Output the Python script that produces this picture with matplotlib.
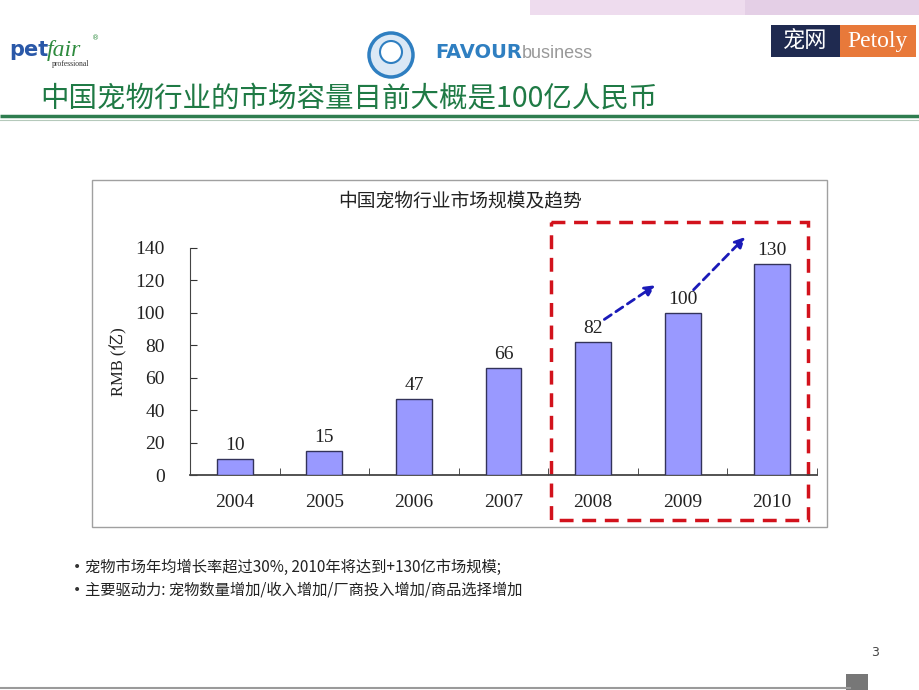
import matplotlib
matplotlib.use("Agg")
import matplotlib.pyplot as plt
from matplotlib.patches import Rectangle, Circle

years = ["2004", "2005", "2006", "2007", "2008", "2009", "2010"]
market_size = [10, 15, 47, 66, 82, 100, 130]
y_ticks = [0, 20, 40, 60, 80, 100, 120, 140]
trend_from = [4, 5]  # dashed arrows 2008->2009, 2009->2010

page_title = "中国宠物行业的市场容量目前大概是100亿人民币"
chart_title = "中国宠物行业市场规模及趋势"
y_label = "RMB (亿)"
bullets = [
    "宠物市场年均增长率超过30%, 2010年将达到+130亿市场规模;",
    "主要驱动力: 宠物数量增加/收入增加/厂商投入增加/商品选择增加",
]

CJK = ["Noto Sans CJK SC", "DejaVu Sans"]
SERIF = ["Liberation Serif", "Noto Sans CJK SC"]

W, H = 920, 690
fig = plt.figure(figsize=(W / 100, H / 100), dpi=100)

# overlay in pixel coordinates for slide decoration
bg = fig.add_axes([0, 0, 1, 1])
bg.set_xlim(0, W)
bg.set_ylim(H, 0)
bg.axis("off")

# top pink strip
bg.add_patch(Rectangle((530, 0), 390, 15, color="#eedcee", lw=0))
bg.add_patch(Rectangle((745, 0), 175, 15, color="#e4cfe6", lw=0))

# petfair logo
bg.text(9, 56, "pet", color="#2a58a8", fontsize=15, fontweight="bold",
        family="DejaVu Sans", va="baseline")
bg.text(47, 56, "fair", color="#2e8b3e", fontsize=17, style="italic",
        family="Liberation Serif", va="baseline")
bg.text(92, 40, "®", color="#2e8b3e", fontsize=5)
bg.text(52, 66, "professional", color="#333333", fontsize=5.5,
        family="Liberation Serif", va="baseline")

# FAVOUR business logo
bg.add_patch(Circle((391, 55), 22, facecolor="#dbe8f5", edgecolor="#2f7fc1", lw=2.5))
bg.add_patch(Circle((391, 52), 11, facecolor="#ffffff", edgecolor="#2f7fc1", lw=1.5))
bg.text(435, 53, "FAVOUR", color="#2f7fc1", fontsize=14, fontweight="bold",
        family="DejaVu Sans", va="center")
bg.text(522, 53, "business", color="#999999", fontsize=13,
        family="Liberation Sans", va="center")

# Petoly logo
bg.add_patch(Rectangle((771, 25), 69, 32, color="#1f2a50", lw=0))
bg.add_patch(Rectangle((840, 25), 76, 32, color="#e8793a", lw=0))
bg.text(805, 41, "宠网", color="white", fontsize=16, family=CJK,
        ha="center", va="center")
bg.text(878, 41, "Petoly", color="white", fontsize=17, family="Liberation Serif",
        ha="center", va="center")

# page title and underline
bg.text(40, 99, page_title, color="#1f7a45", fontsize=20.5, family=CJK,
        fontweight="medium", va="center")
bg.plot([0, W], [116, 116], color="#2e7d4f", lw=2.5, solid_capstyle="butt")
bg.plot([0, W], [120, 120], color="#b5c9bb", lw=0.8)

# chart frame
bg.add_patch(Rectangle((92, 180), 735, 347, facecolor="white",
                       edgecolor="#a0a0a0", lw=1))
bg.text(460, 201, chart_title, fontsize=13.5, family=CJK, color="#222222",
        ha="center", va="center")

# red dashed highlight box
bg.add_patch(Rectangle((551, 222), 257, 298, fill=False, edgecolor="#d2121c",
                       lw=2.5, linestyle=(0, (4, 2.5)), zorder=5))

# bullets
for i, b in enumerate(bullets):
    yy = 567 + i * 23
    bg.text(73, yy, "•", fontsize=10, color="#333333", va="center")
    bg.text(85, yy, b, fontsize=11, family=CJK, color="#222222", va="center")

# page number and bottom decoration
bg.text(875, 652, "3", fontsize=9, color="#444444", ha="center", va="center")
bg.plot([0, 850], [688, 688], color="#9a9a9a", lw=1.5)
bg.add_patch(Rectangle((846, 674), 22, 16, color="#777777", lw=0))

# bar chart
ax_left, ax_right = 190, 817
ax_top, ax_bottom = 248, 475
ax = fig.add_axes([ax_left / W, 1 - ax_bottom / H,
                   (ax_right - ax_left) / W, (ax_bottom - ax_top) / H])
ax.patch.set_alpha(0)
x = list(range(len(years)))
ax.bar(x, market_size, width=0.4, color="#9999ff", edgecolor="#33335a", lw=1, zorder=3)
for xi, v in zip(x, market_size):
    ax.text(xi, v + 3, str(v), ha="center", va="bottom", fontsize=14,
            family=SERIF, color="#222222")

ax.set_xlim(-0.5, len(years) - 0.5)
ax.set_ylim(0, 140)
ax.set_yticks(y_ticks)
ax.set_yticklabels([str(t) for t in y_ticks], family=SERIF, fontsize=14, color="#222222")
ax.set_xticks(x)
ax.set_xticklabels(years, family=SERIF, fontsize=14, color="#222222")
ax.set_xticks([i + 0.5 for i in x], minor=True)
ax.tick_params(axis="x", which="major", length=0, pad=14)
ax.tick_params(axis="x", which="minor", direction="in", length=5, color="#333333")
ax.tick_params(axis="y", direction="in", length=5, color="#333333", pad=18)
for s in ["top", "right"]:
    ax.spines[s].set_visible(False)
for s in ["left", "bottom"]:
    ax.spines[s].set_color("#444444")
ax.spines["bottom"].set_linewidth(1.3)
ax.set_ylabel(y_label, family=SERIF, fontsize=12, color="#222222", labelpad=6)

for i in trend_from:
    ax.annotate("", xy=(i + 0.72, market_size[i + 1] + 18),
                xytext=(i + 0.1, market_size[i] + 13),
                arrowprops=dict(arrowstyle="-|>", color="#1a1ab8", lw=2,
                                linestyle=(0, (3, 2)), mutation_scale=15),
                annotation_clip=False)

fig.savefig("out.png", dpi=100)
